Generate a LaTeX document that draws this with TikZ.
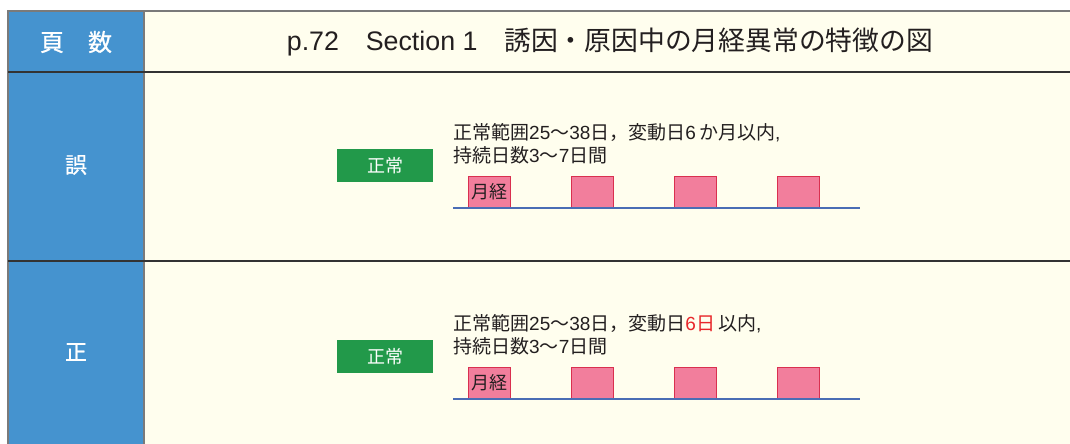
\documentclass[tikz,border=0pt]{standalone}
\usepackage{fontspec}
\setmainfont{Noto Sans CJK JP}
\newfontfamily\latf{Liberation Sans}
\newfontfamily\medf[FakeBold=0.8]{Noto Sans CJK JP}
\newcommand{\lt}[1]{{\latf #1}}
\definecolor{cellblue}{HTML}{4593CF}
\definecolor{cream}{HTML}{FFFEEE}
\definecolor{gridgray}{HTML}{7A7A7A}
\definecolor{rowline}{HTML}{333333}
\definecolor{okgreen}{HTML}{22994A}
\definecolor{pinkfill}{HTML}{F27E9C}
\definecolor{pinkedge}{HTML}{D9304F}
\definecolor{axisblue}{HTML}{4A6DB5}
\definecolor{txt}{HTML}{231F20}
\definecolor{redtxt}{HTML}{E8262A}
\tikzset{
  headtxt/.style={text=white, font=\medf\fontsize{24}{28}\selectfont, inner sep=0pt},
  titletxt/.style={text=txt, font=\fontsize{26.8}{30}\selectfont, inner sep=0pt},
  desc/.style={text=txt, font=\fontsize{19}{23}\selectfont, inner sep=0pt, anchor=west},
  normbox/.style={fill=okgreen, text=white, font=\fontsize{18}{22}\selectfont, minimum width=96pt, minimum height=33pt, inner sep=0pt},
  mens/.style={fill=pinkfill, draw=pinkedge, line width=0.8pt, minimum width=42pt, minimum height=31pt, inner sep=0pt, anchor=south west, text=txt, font=\fontsize{18}{22}\selectfont},
  axis/.style={draw=axisblue, line width=1.4pt}
}
\begin{document}
\begin{tikzpicture}[x=1pt,y=-1pt]
\useasboundingbox (0,0) rectangle (1070,444);
\fill[white] (0,0) rectangle (1070,444);
\fill[cream] (144,11) rectangle (1070,444);
\fill[cellblue] (8,11) rectangle (144,444);
\draw[gridgray, line width=1.6pt] (8,444) -- (8,11) -- (1070,11);
\draw[gridgray, line width=1.2pt] (144,11) -- (144,444);
\draw[rowline, line width=1.4pt] (8,72) -- (1070,72);
\draw[rowline, line width=1.4pt] (8,261) -- (1070,261);

% header
\node[headtxt] (hpage) at (76,42) {頁　数};
\node[titletxt] (htitle) at (610,42) {\lt{p.72}　\lt{Section 1}　誘因・原因中の月経異常の特徴の図};

% row 1
\node[headtxt, font=\medf\fontsize{22}{26}\selectfont] (wrong) at (76,165) {誤};
\node[normbox] (g1) at (385,165.5) {正常};
\node[desc] (d1a) at (453,133) {正常範囲\lt{25}〜\lt{38}日，変動日\lt{6}\,か月以内\lt{,}};
\node[desc] (d1b) at (453,155) {持続日数\lt{3}〜\lt{7}日間};
\coordinate (a1s) at (453,208);
\coordinate (a1e) at (860,208);
\node[mens] (m1a) at (468,208) {月経};
\node[mens] (m1b) at (571,208) {};
\node[mens] (m1c) at (674,208) {};
\node[mens] (m1d) at (777,208) {};
\draw[axis] (a1s) -- (a1e);

% row 2
\node[headtxt, font=\medf\fontsize{22}{26}\selectfont] (right) at (76,352) {正};
\node[normbox] (g2) at (385,356.5) {正常};
\node[desc] (d2a) at (453,324) {正常範囲\lt{25}〜\lt{38}日，変動日\textcolor{redtxt}{\lt{6}日}\,以内\lt{,}};
\node[desc] (d2b) at (453,346) {持続日数\lt{3}〜\lt{7}日間};
\coordinate (a2s) at (453,399);
\coordinate (a2e) at (860,399);
\node[mens] (m2a) at (468,399) {月経};
\node[mens] (m2b) at (571,399) {};
\node[mens] (m2c) at (674,399) {};
\node[mens] (m2d) at (777,399) {};
\draw[axis] (a2s) -- (a2e);
\end{tikzpicture}
\end{document}
